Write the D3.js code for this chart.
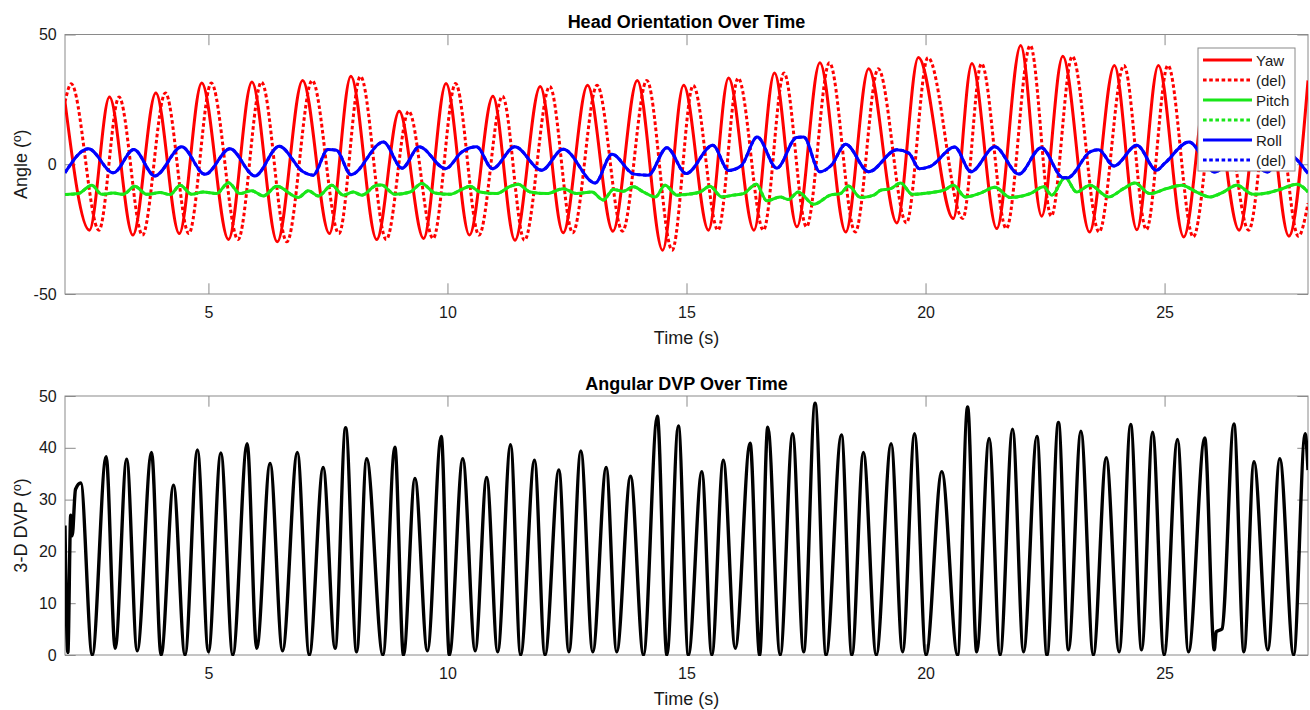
<!DOCTYPE html>
<html>
<head>
<meta charset="utf-8">
<script src="https://cdn.jsdelivr.net/npm/d3@7"></script>
<style>
  html, body { margin: 0; padding: 0; background: #ffffff; }
  svg { display: block; font-family: "Liberation Sans", Arial, sans-serif; }
</style>
</head>
<body>
<svg id="chart" width="1310" height="710"></svg>
<script>
// ---------------- DATA ----------------
const xTicks = [5, 10, 15, 20, 25];
const yTicksTop = [-50, 0, 50];
const yTicksBot = [0, 10, 20, 30, 40, 50];
const legendLabels = ["Yaw", "(del)", "Pitch", "(del)", "Roll", "(del)"];

// Yaw (solid) — [time s, angle deg], extremes
const yawPts = [
  [2.0,24],[2.51,-25.4],[2.93,25.9],[3.42,-27.3],[3.90,27.5],[4.39,-26.7],[4.86,31.3],[5.42,-29],
  [5.91,31.7],[6.44,-29.9],[6.97,32.3],[7.53,-26.7],[7.98,33.9],[8.52,-29],[8.99,20.4],[9.50,-28.6],
  [9.97,31.1],[10.46,-27.3],[10.95,26.2],[11.41,-29.3],[11.94,30.0],[12.42,-26.4],[12.93,30.4],
  [13.46,-25.8],[13.97,32.3],[14.50,-33.1],[14.94,30.4],[15.46,-25.4],[15.88,33.2],[16.41,-25.4],
  [16.84,35.2],[17.31,-24.1],[17.79,39.1],[18.33,-26.1],[18.81,36.8],[19.40,-22.6],[19.85,41.1],
  [20.58,-20.9],[20.97,38.8],[21.49,-24.8],[21.99,45.8],[22.43,-20.0],[22.87,41.6],[23.43,-26.1],
  [23.95,38.1],[24.42,-25.2],[24.87,38.1],[25.40,-28],[25.94,37],[26.56,-25.4],[27.06,37],
  [27.60,-27.7],[28.0,32.3]
];
// Yaw delayed (dotted)
const yawDelPts = [
  [2.0,24],[2.13,31],[2.71,-25.4],[3.13,25.9],[3.62,-27.3],[4.10,27.5],[4.59,-26.7],[5.06,31.3],
  [5.62,-29],[6.11,31.7],[6.64,-29.9],[7.17,32.3],[7.73,-26.7],[8.18,33.9],[8.72,-29],[9.19,20.4],
  [9.70,-28.6],[10.17,31.1],[10.66,-27.3],[11.15,26.2],[11.61,-29.3],[12.14,30.0],[12.62,-26.4],
  [13.13,30.4],[13.66,-25.8],[14.17,32.3],[14.70,-33.1],[15.14,30.4],[15.66,-25.4],[16.08,33.2],
  [16.61,-25.4],[17.04,35.2],[17.51,-24.1],[17.99,39.1],[18.53,-26.1],[19.01,36.8],[19.60,-22.6],
  [20.05,41.1],[20.78,-20.9],[21.17,38.8],[21.69,-24.8],[22.19,45.8],[22.63,-20.0],[23.07,41.6],
  [23.63,-26.1],[24.15,38.1],[24.62,-25.2],[25.07,38.1],[25.60,-28],[26.14,37],[26.76,-25.4],
  [27.26,37],[27.80,-27.7],[28.0,-15]
];
// Pitch
const pitchPts = [
  [2.0,-11.7],[2.28,-11.3],[2.56,-8.1],[2.77,-11.6],[3.01,-11.1],[3.22,-11.6],[3.46,-8.5],[3.71,-11.6],
  [3.99,-10.9],[4.20,-11.7],[4.41,-8.1],[4.65,-11.6],[4.89,-10.7],[5.17,-11.3],[5.42,-7.1],[5.66,-11.3],
  [5.90,-10.2],[6.15,-12.2],[6.43,-8.5],[6.88,-12.8],[7.09,-10.2],[7.30,-12.2],[7.58,-8.1],[7.82,-11.9],
  [8.03,-10.7],[8.21,-11.9],[8.52,-8.1],[8.62,-8.0],[8.90,-11.6],[9.22,-10.7],[9.46,-7.4],[9.74,-11.1],
  [10.05,-11.6],[10.30,-9.7],[10.47,-8.5],[10.68,-10.7],[11.03,-11.3],[11.31,-8.5],[11.48,-7.7],
  [11.73,-10.7],[12.08,-11.3],[12.42,-9.4],[12.70,-11.3],[13.02,-10.7],[13.26,-13.8],[13.47,-9.7],
  [13.68,-10.4],[13.89,-8.7],[14.10,-10.7],[14.35,-12.6],[14.55,-8.1],[14.80,-11.9],[15.02,-11.6],
  [15.28,-10.7],[15.49,-8.5],[15.74,-12.6],[15.98,-11.9],[16.19,-11.3],[16.46,-7.7],[16.68,-14.1],
  [16.96,-12.6],[17.13,-13.6],[17.34,-10.7],[17.66,-15.4],[18.01,-11.9],[18.22,-11.3],[18.39,-8.4],
  [18.64,-12.8],[18.92,-11.9],[19.06,-10.0],[19.27,-9.4],[19.48,-7.2],[19.72,-11.6],[20.03,-11.1],
  [20.38,-10.0],[20.59,-8.1],[20.83,-12.6],[21.15,-11.1],[21.45,-8.9],[21.77,-12.8],[22.19,-11.3],
  [22.47,-8.7],[22.64,-11.9],[22.92,-5.1],[23.16,-10.7],[23.44,-8.1],[23.83,-12.6],[24.14,-9.4],
  [24.38,-7.2],[24.69,-11.3],[25.04,-9.4],[25.36,-8.1],[25.67,-10.7],[25.95,-12.6],[26.23,-10.7],
  [26.51,-8.1],[26.86,-11.6],[27.14,-11.1],[27.42,-9.7],[27.77,-7.7],[28.0,-10.7]
];
// Roll
const rollPts = [
  [2.0,-3.3],[2.49,6.0],[3.01,-3.3],[3.44,5.7],[3.88,-4.5],[4.44,6.7],[4.93,-3.9],[5.45,6.0],
  [5.97,-4.5],[6.48,6.9],[6.98,-2.9],[7.19,-4.2],[7.50,5.7],[7.68,5.4],[7.98,-4.0],[8.66,8.6],
  [9.05,-1.5],[9.41,6.7],[9.96,-1.7],[10.30,4.7],[10.61,6.7],[10.94,-1.7],[11.41,6.7],[11.97,-2.3],
  [12.42,5.8],[13.09,-7.2],[13.44,3.9],[13.90,-3.8],[14.20,-4.2],[14.59,6.4],[14.99,-3.6],[15.55,7.3],
  [15.88,-2.4],[16.14,-0.7],[16.48,10.5],[16.89,-1.5],[17.30,10.3],[17.45,10.5],[17.79,-2.9],
  [18.03,-0.4],[18.33,7.7],[18.81,-2.9],[19.40,5.6],[19.65,4.3],[19.87,-1.7],[20.10,-0.8],[20.61,6.6],
  [20.95,-2.9],[21.45,6.7],[21.95,-3.8],[22.42,6.4],[22.88,-5.2],[22.97,-5.2],[23.45,4.9],[23.62,5.6],
  [23.94,-0.7],[24.42,7.3],[24.83,-2.3],[25.00,0.3],[25.51,8.6],[26.05,-3.0],[26.60,6.0],[27.15,-3.0],
  [27.48,5.0],[28.0,-3.6]
];
// Angular DVP
const dvpPts = [
  [2.0,25],[2.06,0.5],[2.12,27],[2.15,23],[2.22,32],[2.33,33.2],[2.57,0],[2.86,38.3],[3.05,1.3],
  [3.29,37.8],[3.51,0.8],[3.81,39.1],[4.01,0],[4.27,32.8],[4.51,0],[4.77,39.6],[5.00,0.6],[5.26,39.0],
  [5.51,0],[5.81,40.8],[6.01,1.3],[6.29,37],[6.55,0.8],[6.86,39.1],[7.11,0],[7.40,36.2],[7.65,1.3],
  [7.87,43.9],[8.10,0.6],[8.31,37.9],[8.65,0],[8.90,40.1],[9.08,0],[9.32,34.1],[9.58,0.8],[9.87,42.2],
  [10.04,0],[10.32,37.9],[10.58,0.8],[10.82,34.3],[11.05,0.6],[11.32,40.6],[11.53,0],[11.82,37.6],
  [12.04,0],[12.33,35.7],[12.54,0.6],[12.79,39.4],[13.04,0.6],[13.32,36.2],[13.54,0.6],[13.83,34.5],
  [14.10,0],[14.39,46.1],[14.59,0],[14.83,44.2],[15.04,0],[15.32,35.4],[15.53,0],[15.77,37.6],
  [16.02,1.3],[16.33,40.9],[16.53,0],[16.70,44.0],[16.96,0],[17.22,42.7],[17.45,0.6],[17.69,48.6],
  [17.92,0],[18.24,42.5],[18.46,0],[18.70,39.1],[18.97,0],[19.28,40.8],[19.52,0.6],[19.77,42.7],
  [20.01,0],[20.34,35.4],[20.67,0],[20.88,47.9],[21.07,0.6],[21.33,41.8],[21.56,0],[21.82,43.6],
  [22.05,0.6],[22.33,42.2],[22.54,0],[22.78,44.9],[22.99,1.0],[23.25,43.2],[23.51,0],[23.78,38.1],
  [24.05,0.6],[24.29,44.5],[24.52,1.0],[24.75,43.0],[24.99,0],[25.27,41.6],[25.50,0.6],[25.84,41.9],
  [26.04,1.0],[26.08,4.5],[26.20,5.0],[26.45,44.6],[26.66,0.6],[26.87,37.3],[27.16,1.0],[27.41,37.9],
  [27.70,0],[27.94,42.7],[28.0,35.7]
];

// ---------------- DRAWING ----------------
const svg = d3.select("#chart");
const axisGray = "#8a8a8a";
const textCol = "#1a1a1a";
const left = 65, right = 1308;
const x = d3.scaleLinear().domain([2, 28]).range([left, right]);
const yTop = d3.scaleLinear().domain([-50, 50]).range([294, 34.5]);
const yBot = d3.scaleLinear().domain([0, 50]).range([655, 396]);
const tickLen = 10.7;
const fmt = d => String(d);

function panel(id, y, yTicks, title, ylab) {
  const [yb, yt] = y.range();
  const g = svg.append("g");
  g.append("rect").attr("x", left).attr("y", yt).attr("width", right - left).attr("height", yb - yt)
    .attr("fill", "#fff");

  const styleAxis = (sel, showText) => {
    sel.select(".domain").remove();
    sel.selectAll(".tick line").attr("stroke", axisGray).attr("stroke-width", 1);
    sel.selectAll(".tick text").attr("fill", textCol).style("font-size", "16px")
      .style("font-family", '"Liberation Sans", Arial, sans-serif');
    if (!showText) sel.selectAll(".tick text").remove();
  };

  g.append("g").attr("transform", `translate(0,${yb})`)
    .call(d3.axisBottom(x).tickValues(xTicks).tickSizeInner(-tickLen).tickSizeOuter(0).tickPadding(12.6).tickFormat(fmt))
    .call(s => styleAxis(s, true));
  g.append("g").attr("transform", `translate(0,${yt})`)
    .call(d3.axisTop(x).tickValues(xTicks).tickSizeInner(-tickLen).tickSizeOuter(0))
    .call(s => styleAxis(s, false));
  g.append("g").attr("transform", `translate(${left},0)`)
    .call(d3.axisLeft(y).tickValues(yTicks).tickSizeInner(-tickLen).tickSizeOuter(0).tickPadding(8.3).tickFormat(fmt))
    .call(s => styleAxis(s, true));
  g.append("g").attr("transform", `translate(${right},0)`)
    .call(d3.axisRight(y).tickValues(yTicks).tickSizeInner(-tickLen).tickSizeOuter(0))
    .call(s => styleAxis(s, false));

  g.append("rect").attr("x", left).attr("y", yt).attr("width", right - left).attr("height", yb - yt)
    .attr("fill", "none").attr("stroke", axisGray).attr("stroke-width", 1);

  svg.append("clipPath").attr("id", id).append("rect")
    .attr("x", left).attr("y", yt - 1).attr("width", right - left).attr("height", yb - yt + 2);

  g.append("text").attr("x", (left + right) / 2).attr("y", yt - 6.5).attr("text-anchor", "middle")
    .attr("fill", "#000").style("font-size", "18px").style("font-weight", "bold").text(title);
  g.append("text").attr("x", (left + right) / 2).attr("y", yb + 49.5).attr("text-anchor", "middle")
    .attr("fill", textCol).style("font-size", "18px").text("Time (s)");
  g.append("text").attr("transform", `translate(27,${(yb + yt) / 2}) rotate(-90)`).attr("text-anchor", "middle")
    .attr("fill", textCol).style("font-size", "18px").text(ylab);

  return g.append("g").attr("clip-path", `url(#${id})`);
}

const topG = panel("clipTop", yTop, yTicksTop, "Head Orientation Over Time", "Angle (º)");
const botG = panel("clipBot", yBot, yTicksBot, "Angular DVP Over Time", "3-D DVP (º)");

const lineTop = d3.line().x(d => x(d[0])).y(d => yTop(d[1])).curve(d3.curveMonotoneX);
const lineBot = d3.line().x(d => x(d[0])).y(d => yBot(d[1])).curve(d3.curveMonotoneX);

const red = "#ff0000", green = "#19e619", blue = "#0000ff";
const dotted = "3.6,2.6";
const series = [
  { pts: yawPts, color: red, dash: null },
  { pts: yawDelPts, color: red, dash: dotted },
  { pts: pitchPts, color: green, dash: null },
  { pts: pitchPts, color: green, dash: dotted },
  { pts: rollPts, color: blue, dash: null },
  { pts: rollPts, color: blue, dash: dotted }
];
series.forEach(s => {
  topG.append("path").attr("d", lineTop(s.pts)).attr("fill", "none")
    .attr("stroke", s.color).attr("stroke-width", 3)
    .attr("stroke-linejoin", "round")
    .attr("stroke-dasharray", s.dash);
});

botG.append("path").attr("d", lineBot(dvpPts)).attr("fill", "none")
  .attr("stroke", "#000").attr("stroke-width", 3.4).attr("stroke-linejoin", "round");

// Legend
const lg = svg.append("g");
lg.append("rect").attr("x", 1198).attr("y", 48).attr("width", 97).attr("height", 123)
  .attr("fill", "#fff").attr("stroke", axisGray).attr("stroke-width", 1);
legendLabels.forEach((lab, i) => {
  const s = series[i];
  const yy = 60 + i * 20;
  lg.append("line").attr("x1", 1203).attr("x2", 1252).attr("y1", yy).attr("y2", yy)
    .attr("stroke", s.color).attr("stroke-width", 3).attr("stroke-dasharray", s.dash);
  lg.append("text").attr("x", 1256).attr("y", yy + 6).attr("fill", textCol)
    .style("font-size", "15px").text(lab);
});
</script>
</body>
</html>
